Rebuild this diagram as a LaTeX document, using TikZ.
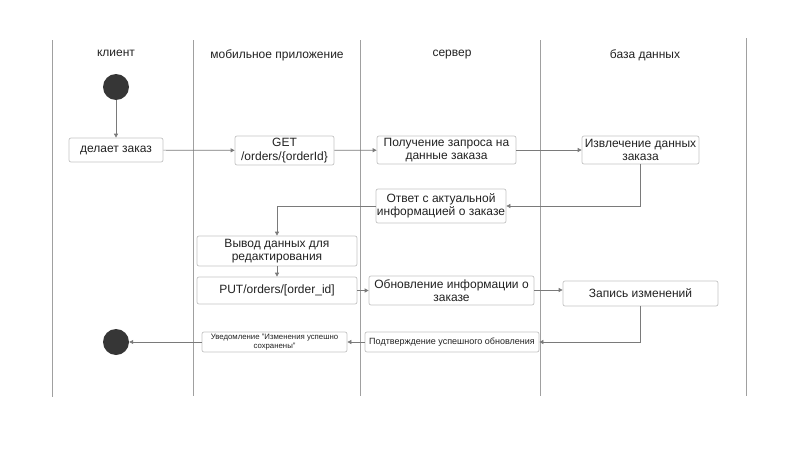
\documentclass[tikz,border=0pt]{standalone}
\usepackage{fontspec}
\setmainfont{Liberation Sans}
\usetikzlibrary{arrows.meta,calc}
\definecolor{lanec}{HTML}{A0A0A0}
\definecolor{boxc}{HTML}{C4C4C4}
\definecolor{arrc}{HTML}{7A7A7A}
\definecolor{dotc}{HTML}{363636}
\definecolor{txtc}{HTML}{222222}
\begin{document}
\begin{tikzpicture}[x=1pt,y=-1pt,
  lane/.style={draw=lanec,line width=0.8pt},
  hdr/.style={text=txtc,font=\fontsize{12}{14}\selectfont,inner sep=0pt},
  act/.style={draw=boxc,rounded corners=2pt,line width=0.7pt,fill=white,align=center,
    text=txtc,font=\fontsize{12}{13.5}\selectfont,inner sep=1pt},
  dot/.style={circle,fill=dotc,minimum size=26pt,inner sep=0pt},
  flow/.style={draw=arrc,line width=0.7pt,-{Triangle[length=4pt,width=4pt]}},
]
\useasboundingbox (0,0) rectangle (811,471);
% lanes
\draw[lane] (52,40) -- (52,397);
\draw[lane] (193,40) -- (193,396);
\draw[lane] (360,40) -- (360,396);
\draw[lane] (540,40) -- (540,396);
\draw[lane] (746,38) -- (746,396);
% headers
\node[hdr] (h1) at (116,53) {клиент};
\node[hdr] (h2) at (277,55) {мобильное приложение};
\node[hdr] (h3) at (452,55) {сервер};
\node[hdr] (h4) at (645,55) {база данных};
% nodes
\node[dot] (start) at (116,87) {};
\node[act,minimum width=94pt,minimum height=24pt] (zakaz) at (116,150) {делает заказ};
\node[act,minimum width=99pt,minimum height=29pt] (get) at (284.5,150.5) {GET\\/orders/\{orderId\}};
\node[act,minimum width=139pt,minimum height=28pt] (poluch) at (446.5,150) {Получение запроса на\\данные заказа};
\node[act,minimum width=117pt,minimum height=28pt] (izvl) at (640.5,150) {Извлечение данных\\заказа};
\node[act,minimum width=130pt,minimum height=34pt] (otvet) at (441,206) {Ответ с актуальной\\информацией о заказе};
\node[act,minimum width=160pt,minimum height=30pt] (vyvod) at (277,251) {Вывод данных для\\редактирования};
\node[act,minimum width=160pt,minimum height=27pt] (put) at (277,290.5) {PUT/orders/[order\_id]};
\node[act,minimum width=165pt,minimum height=29pt] (obnov) at (451.5,290.5) {Обновление информации о\\заказе};
\node[act,minimum width=155pt,minimum height=25pt] (zapis) at (640.5,293.5) {Запись изменений};
\node[act,minimum width=174pt,minimum height=20pt,font=\fontsize{9}{10}\selectfont] (podtv) at (452,342) {Подтверждение успешного обновления};
\node[act,minimum width=145pt,minimum height=20pt,font=\fontsize{7.8}{8.5}\selectfont] (uved) at (274.5,342) {Уведомление "Изменения успешно\\сохранены"};
\node[dot] (end) at (116,342) {};
% flows
\draw[flow] (start) -- (zakaz);
\draw[flow] (zakaz) -- (get);
\draw[flow] (get) -- (poluch);
\draw[flow] (poluch) -- (izvl);
\draw[flow] (izvl.south) |- (otvet.east);
\draw[flow] (otvet.west) -| (vyvod.north);
\draw[flow] (vyvod) -- (put);
\draw[flow] (put.east) -- (obnov.west);
\draw[flow] ([yshift=0.5pt]obnov.east) -- ([yshift=0.5pt]obnov.east -| zapis.west);
\draw[flow] (zapis.south) |- (podtv.east);
\draw[flow] (podtv.west) -- (uved.east);
\draw[flow] (uved.west) -- (end);
\end{tikzpicture}
\end{document}
